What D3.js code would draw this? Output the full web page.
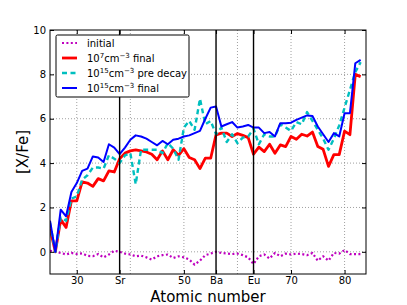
<!DOCTYPE html>
<html>
<head>
<meta charset="utf-8">
<script src="https://cdn.jsdelivr.net/npm/d3@7"></script>
<style>
  html, body { margin: 0; padding: 0; background: #fff; }
  svg { display: block; font-family: "DejaVu Sans", sans-serif; }
</style>
</head>
<body>
<svg id="chart" width="407" height="305"></svg>
<script>
// Atomic numbers Z = 25 .. 83
const atomicNumbers = d3.range(25, 84);

const initial = [0.05, 0, -0.05, -0.12, -0.05, -0.1, -0.07, -0.18, -0.2, -0.1,
  -0.25, -0.12, 0.05, 0, -0.08, -0.12, -0.2, -0.17, -0.25, -0.35,
  -0.2, -0.15, -0.12, -0.28, -0.2, -0.25, -0.35, -0.58, -0.4, -0.15,
  -0.08, 0.0, -0.05, -0.08, -0.1, -0.08, -0.15, -0.25, -0.55, -0.2,
  -0.12, -0.3, -0.05, -0.2, -0.08, -0.12, -0.08, -0.1, -0.15, -0.05,
  -0.4, -0.2, -0.4, -0.05, -0.08, 0.08, -0.1, -0.1, -0.1];

const final7 = [1.05, 0, 1.45, 1.1, 2.3, 2.3, 3.15, 3.1, 2.95, 3.3,
  3.2, 3.65, 3.6, 4.2, 4.45, 4.55, 4.6, 4.55, 4.5, 4.4,
  4.15, 4.55, 4.15, 4.6, 4.35, 4.65, 4.25, 4.15, 3.75, 4.22,
  4.22, 5.27, 5.35, 5.35, 5.2, 5.33, 5.25, 5.15, 4.4, 4.72,
  4.52, 4.85, 4.44, 4.82, 4.74, 5.2, 5.07, 5.3, 5.22, 5.4,
  4.75, 4.62, 3.85, 4.38, 4.38, 5.44, 5.28, 8.0, 7.9];

const preDecay15 = [1.3, 0, 1.55, 1.4, 2.4, 2.5, 3.25, 3.45, 3.8, 3.8,
  3.75, 4.35, 4.2, 4.0, 4.35, 4.45, 3.05, 4.6, 4.6, 4.6,
  4.6, 4.45, 4.9, 4.65, 4.15, 5.6, 5.9, 5.5, 6.9, 5.75,
  5.9, 5.3, 5.6, 4.95, 5.3, 4.9, 5.15, 5.2, 5.55, 4.85,
  5.3, 5.2, 5.2, 5.75, 5.6, 5.45, 5.85, 5.75, 6.3, 5.9,
  5.5, 5.1, 4.6, 5.1, 5.7, 6.5, 7.3, 8.1, 8.55];

const final15 = [1.4, 0, 1.9, 1.6, 2.7, 3.1, 3.65, 3.75, 4.3, 4.25,
  4.05, 4.85, 4.7, 4.4, 4.7, 5.05, 5.25, 5.2, 5.1, 4.95,
  4.8, 5.0, 4.85, 5.05, 5.1, 5.2, 5.25, 5.35, 5.45, 6.0,
  6.5, 6.55, 5.65, 5.75, 5.85, 5.6, 5.65, 5.72, 5.6, 5.6,
  5.35, 5.4, 5.2, 5.8, 5.8, 5.82, 5.95, 6.05, 6.15, 6.12,
  5.65, 5.3, 4.95, 5.35, 5.2, 6.25, 6.25, 8.5, 8.65];

const xTickValues = [30, 38, 50, 56, 63, 70, 80];
const xTickLabels = ["30", "Sr", "50", "Ba", "Eu", "70", "80"];
const xGridValues = [30, 40, 50, 60, 70, 80];
const markerElements = [38, 56, 63];
const yTickValues = [0, 2, 4, 6, 8, 10];

const svg = d3.select("#chart");
const L = 50, R = 366, T = 30, B = 274;
const x = d3.scaleLinear().domain([25, 84]).range([L, R]);
const y = d3.scaleLinear().domain([-1, 10]).range([B, T]);

// grid
const grid = svg.append("g");
grid.selectAll("line.gx").data(xGridValues).join("line")
  .attr("x1", d => x(d)).attr("x2", d => x(d)).attr("y1", T).attr("y2", B)
  .attr("stroke", "#888").attr("stroke-width", 0.8).attr("stroke-dasharray", "1,2");
grid.selectAll("line.gy").data(yTickValues.filter(v => v < 10)).join("line")
  .attr("x1", L).attr("x2", R).attr("y1", d => y(d)).attr("y2", d => y(d))
  .attr("stroke", "#888").attr("stroke-width", 0.8).attr("stroke-dasharray", "1,2");

// series
const series = [
  { name: "initial", values: initial, color: "#bf00bf", width: 2.2, dash: "2,2.4" },
  { name: "r7", values: final7, color: "#ff0000", width: 2.8, dash: null },
  { name: "c15", values: preDecay15, color: "#00bfbf", width: 2.4, dash: "5,3.5" },
  { name: "b15", values: final15, color: "#0000ff", width: 2, dash: null }
];
const line = d3.line().x((d, i) => x(atomicNumbers[i])).y(d => y(d));
const plot = svg.append("g");
plot.append("clipPath").attr("id", "clip").append("rect")
  .attr("x", L).attr("y", T).attr("width", R - L).attr("height", B - T);
series.forEach(s => {
  plot.append("path").datum(s.values)
    .attr("d", line)
    .attr("fill", "none")
    .attr("stroke", s.color)
    .attr("stroke-width", s.width)
    .attr("stroke-dasharray", s.dash)
    .attr("stroke-linejoin", "round")
    .attr("clip-path", "url(#clip)");
});

// element marker lines
svg.append("g").selectAll("line").data(markerElements).join("line")
  .attr("x1", d => x(d)).attr("x2", d => x(d)).attr("y1", T).attr("y2", B)
  .attr("stroke", "#000").attr("stroke-width", 1.4);

// frame
svg.append("rect").attr("x", L).attr("y", T).attr("width", R - L).attr("height", B - T)
  .attr("fill", "none").attr("stroke", "#000").attr("stroke-width", 1);

// axes (ticks inward)
const xAxisB = d3.axisBottom(x).tickValues(xTickValues)
  .tickFormat((d, i) => xTickLabels[i]).tickSizeInner(-4).tickSizeOuter(0).tickPadding(3);
const gxb = svg.append("g").attr("transform", `translate(0,${B})`).call(xAxisB);
const xAxisT = d3.axisTop(x).tickValues(xTickValues).tickFormat("").tickSizeInner(-4).tickSizeOuter(0);
const gxt = svg.append("g").attr("transform", `translate(0,${T})`).call(xAxisT);
const yAxisL = d3.axisLeft(y).tickValues(yTickValues).tickSizeInner(-4).tickSizeOuter(0).tickPadding(4);
const gyl = svg.append("g").attr("transform", `translate(${L},0)`).call(yAxisL);
const yAxisR = d3.axisRight(y).tickValues(yTickValues).tickFormat("").tickSizeInner(-4).tickSizeOuter(0);
const gyr = svg.append("g").attr("transform", `translate(${R},0)`).call(yAxisR);
[gxb, gxt, gyl, gyr].forEach(g => {
  g.select(".domain").remove();
  g.selectAll("text").attr("font-family", "DejaVu Sans").attr("font-size", 10).attr("fill", "#000");
  g.selectAll("line").attr("stroke", "#000");
});

// axis labels
svg.append("text").attr("x", (L + R) / 2).attr("y", 302)
  .attr("text-anchor", "middle").attr("font-size", 15).text("Atomic number");
svg.append("text").attr("transform", `translate(28,${(T + B) / 2}) rotate(-90)`)
  .attr("text-anchor", "middle").attr("font-size", 15).text("[X/Fe]");

// legend
const lg = svg.append("g");
lg.append("rect").attr("x", 56).attr("y", 35).attr("width", 133).attr("height", 62)
  .attr("rx", 1.5).attr("fill", "#fff").attr("stroke", "#000").attr("stroke-width", 1);
const legendLabels = [
  [["initial", null]],
  [["10", null], ["7", "sup"], ["cm", null], ["−3", "sup"], [" final", null]],
  [["10", null], ["15", "sup"], ["cm", null], ["−3", "sup"], [" pre decay", null]],
  [["10", null], ["15", "sup"], ["cm", null], ["−3", "sup"], [" final", null]]
];
series.forEach((s, i) => {
  const yy = 43 + i * 15;
  lg.append("line").attr("x1", 62).attr("x2", 77).attr("y1", yy).attr("y2", yy)
    .attr("stroke", s.color).attr("stroke-width", s.width).attr("stroke-dasharray", s.dash);
  const t = lg.append("text").attr("x", 87).attr("y", yy + 3.5).attr("font-size", 10);
  let raised = false;
  legendLabels[i].forEach(([txt, kind]) => {
    const ts = t.append("tspan").text(txt);
    if (kind === "sup") { ts.attr("font-size", 7).attr("dy", raised ? 0 : -4); raised = true; }
    else { ts.attr("dy", raised ? 4 : 0); raised = false; }
  });
});
</script>
</body>
</html>
